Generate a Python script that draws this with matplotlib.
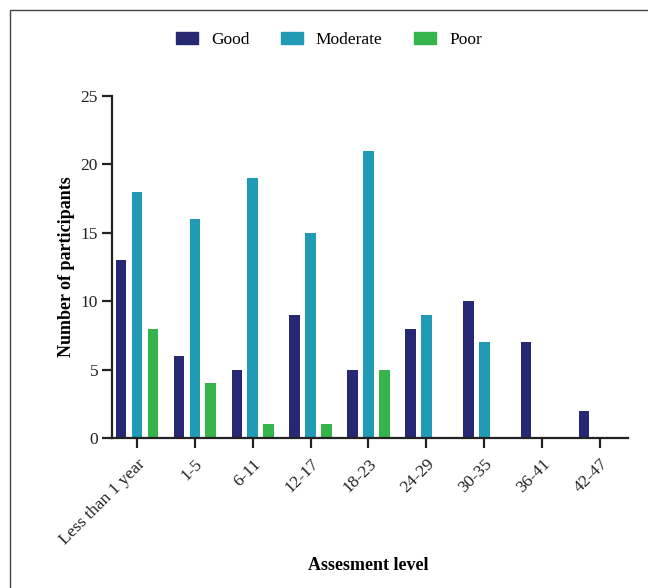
import numpy as np
import matplotlib.pyplot as plt
from matplotlib.patches import Rectangle, Patch

plt.rcParams['font.family'] = ['Liberation Serif', 'DejaVu Serif']

# Participants per assessment level and rating
categories = ['Less than 1 year', '1-5', '6-11', '12-17', '18-23',
              '24-29', '30-35', '36-41', '42-47']
good = [13, 6, 5, 9, 5, 8, 10, 7, 2]
moderate = [18, 16, 19, 15, 21, 9, 7, 0, 0]
poor = [8, 4, 1, 1, 5, 0, 0, 0, 0]

series = [('Good', good, '#262873'),
          ('Moderate', moderate, '#219bb5'),
          ('Poor', poor, '#34b44a')]

fig = plt.figure(figsize=(6.48, 5.88), dpi=100)
ax = fig.add_axes([0.1728, 0.2551, 0.7962, 0.5816])

x = np.arange(len(categories))
offset = 0.275
width = 0.18
for i, (name, vals, color) in enumerate(series):
    ax.bar(x + (i - 1) * offset, vals, width, color=color, label=name, zorder=2)

ax.set_xlim(-0.43, len(categories) - 1 + 0.48)
ax.set_ylim(0, 25)
ax.set_yticks([0, 5, 10, 15, 20, 25])
ax.set_xticks(x)
ax.set_xticklabels(categories, rotation=45, ha='right', rotation_mode='anchor')

for side in ['top', 'right']:
    ax.spines[side].set_visible(False)
for side in ['left', 'bottom']:
    ax.spines[side].set_linewidth(1.6)
    ax.spines[side].set_color('#222222')
ax.tick_params(axis='both', direction='out', length=7, width=1.6,
               color='#222222', labelsize=12.5, labelcolor='#222222', pad=3)
ax.tick_params(axis='x', pad=6)

ax.set_ylabel('Number of participants', fontsize=13, fontweight='bold', labelpad=4)
fig.text(0.568, 1 - 565 / 588, 'Assesment level', fontsize=13, fontweight='bold',
         ha='center', va='center')

handles = [Patch(color=c, label=n) for n, _, c in series]
fig.legend(handles=handles, loc='center left', ncol=3, frameon=False,
           bbox_to_anchor=(176 / 648, 1 - 40 / 588), fontsize=12.5,
           handlelength=1.27, handleheight=0.63, handletextpad=0.75,
           columnspacing=1.8, borderpad=0, borderaxespad=0)

# thin frame round the figure
fig.patches.append(Rectangle((10 / 648, -0.05), 1.2, 1 - 10 / 588 + 0.05,
                             transform=fig.transFigure, fill=False,
                             edgecolor='#444444', linewidth=1.0))

fig.savefig('out.png', dpi=100)
